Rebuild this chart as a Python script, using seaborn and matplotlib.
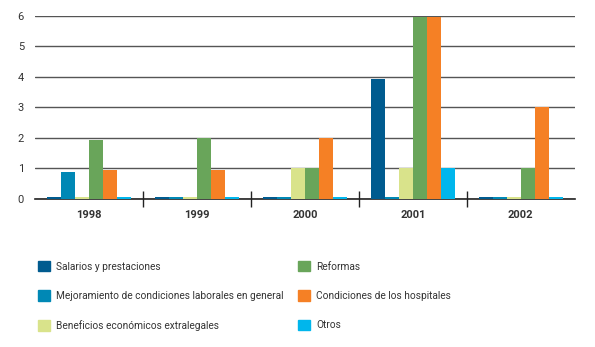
import matplotlib
matplotlib.use("Agg")
import matplotlib.pyplot as plt
import seaborn as sns
import pandas as pd
import numpy as np

# data
years = ["1998", "1999", "2000", "2001", "2002"]
categories = [
    "Salarios y prestaciones",
    "Mejoramiento de condiciones laborales en general",
    "Beneficios económicos extralegales",
    "Reformas",
    "Condiciones de los hospitales",
    "Otros",
]
salarios = [0, 0, 0, 3.95, 0]
mejoramiento = [0.9, 0, 0, 0, 0]
beneficios = [0, 0, 1, 1, 0]
reformas = [1.95, 2, 1, 5.95, 1]
hospitales = [0.95, 0.95, 2, 5.95, 3]
otros = [0, 0, 0, 1, 0]
colors = ["#005b8f", "#0088b5", "#d9e38b", "#69a55a", "#f58025", "#00b6ec"]

series = [salarios, mejoramiento, beneficios, reformas, hospitales, otros]
rows = []
for cat, vals in zip(categories, series):
    for y, v in zip(years, vals):
        rows.append({"year": y, "cat": cat, "value": v})
df = pd.DataFrame(rows)
# zero values show as thin slivers in the original
df["shown"] = df["value"].clip(lower=0.06)

sns.set_style("white")
plt.rcParams["font.family"] = ["Roboto", "DejaVu Sans"]

fig = plt.figure(figsize=(5.95, 3.47), dpi=100)
ax = fig.add_axes([0.059, 0.4265, 0.907, 0.5275])

sns.barplot(data=df, x="year", y="shown", hue="cat", hue_order=categories,
            palette=colors, width=0.78, saturation=1, ax=ax, legend=False,
            linewidth=0, edgecolor="none", zorder=3)

ax.set_ylim(0, 6)
ax.set_xlim(-0.5, 4.5)
ax.set_yticks(range(0, 7))
ax.yaxis.grid(True, color="#555555", linewidth=1)
ax.set_axisbelow(True)
for s in ["left", "right", "top"]:
    ax.spines[s].set_visible(False)
ax.spines["bottom"].set_color("#222222")
ax.spines["bottom"].set_linewidth(1.2)
ax.set_xlabel("")
ax.set_ylabel("")
ax.tick_params(axis="y", length=0, labelsize=8, colors="#333333", pad=8)
ax.tick_params(axis="x", which="major", length=0, labelsize=8, pad=8,
               colors="#333333")
for t in ax.get_xticklabels():
    t.set_fontweight("bold")
ax.set_xticks([0.5, 1.5, 2.5, 3.5], minor=True)
ax.tick_params(axis="x", which="minor", bottom=True, length=12,
               direction="inout", width=1, color="#222222")

handles = [plt.Rectangle((0, 0), 1, 1, color=c) for c in colors]
leg_kw = dict(frameon=False, fontsize=7.3, handlelength=1.2, handleheight=1.2,
              handletextpad=0.6, labelspacing=1.85, borderpad=0,
              labelcolor="#333333")
l1 = fig.legend(handles[:3], categories[:3], loc="upper left",
                bbox_to_anchor=(33 / 595, 1 - 256 / 347), **leg_kw)
l2 = fig.legend(handles[3:], categories[3:], loc="upper left",
                bbox_to_anchor=(293 / 595, 1 - 256 / 347), **leg_kw)

fig.savefig("out.png", dpi=100)
